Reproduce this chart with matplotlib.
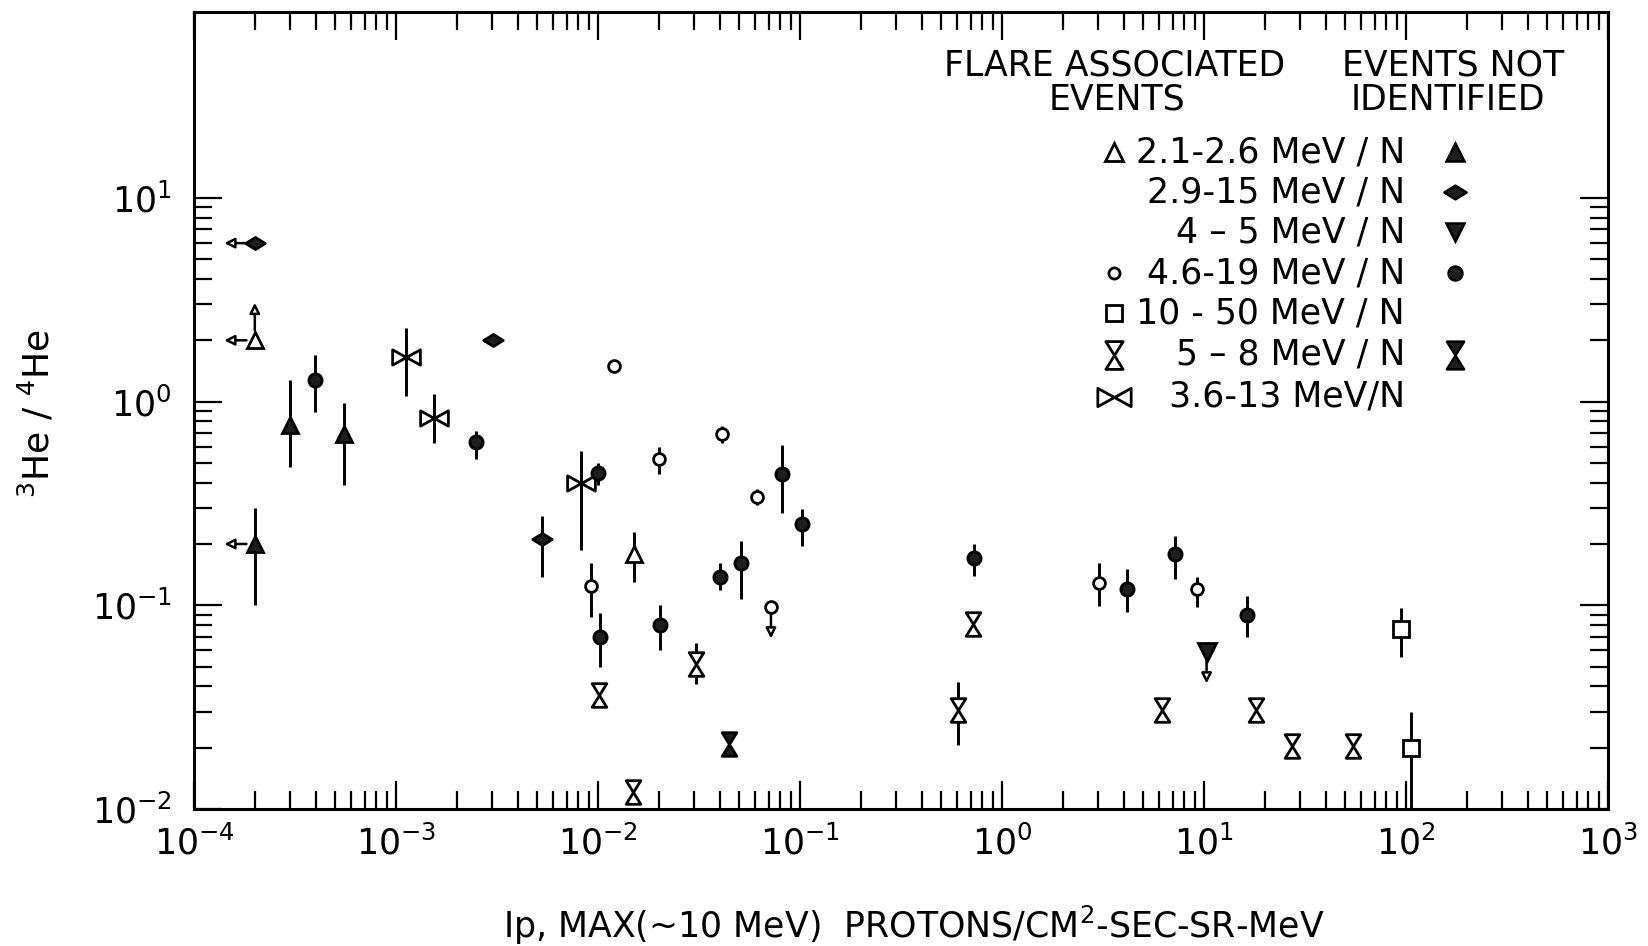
import numpy as np
import matplotlib
matplotlib.use("Agg")
import matplotlib.pyplot as plt
from matplotlib.path import Path
from matplotlib.lines import Line2D
from matplotlib.ticker import FixedLocator, LogLocator, NullFormatter
import matplotlib.transforms as mtransforms

nan = np.nan

# ---------------- data ----------------
# Flare associated events (open symbols)
tri_open_x = [2.0e-4, 1.51e-2]
tri_open_y = [2.0, 0.179]
tri_open_lo = [nan, 0.13]
tri_open_hi = [nan, 0.23]
tri_open_arr = ["LU", ""]

circ_open_x = [9.2e-3, 1.2e-2, 2.01e-2, 4.09e-2, 6.11e-2, 7.18e-2, 3.02, 9.2]
circ_open_y = [0.124, 1.5, 0.52, 0.69, 0.342, 0.0986, 0.129, 0.12]
circ_open_lo = [0.0875, nan, 0.44, 0.627, 0.311, nan, 0.0993, 0.0986]
circ_open_hi = [0.162, nan, 0.60, 0.76, 0.372, nan, 0.161, 0.138]
circ_open_arr = ["", "", "", "", "", "D", "", ""]

sq_open_x = [94.5, 106.0]
sq_open_y = [0.0764, 0.020]
sq_open_lo = [0.056, 0.01]
sq_open_hi = [0.0968, 0.0298]
sq_open_arr = ["", ""]

hg_open_x = [0.01016, 0.01486, 0.0305, 0.604, 0.716, 6.22, 18.1, 27.2, 54.8]
hg_open_y = [0.0363, 0.0121, 0.0515, 0.0306, 0.081, 0.0306, 0.0306, 0.0204, 0.0204]
hg_open_lo = [nan, nan, 0.041, 0.0207, nan, nan, nan, nan, nan]
hg_open_hi = [nan, nan, 0.065, 0.042, nan, nan, nan, nan, nan]
hg_open_arr = [""] * 9

bow_x = [1.12e-3, 1.55e-3, 8.2e-3]
bow_y = [1.66, 0.835, 0.40]
bow_lo = [1.07, 0.625, 0.186]
bow_hi = [2.29, 1.09, 0.574]
bow_arr = ["", "", ""]

# Events not identified (filled symbols)
tri_fill_x = [2.0e-4, 3.0e-4, 5.53e-4]
tri_fill_y = [0.20, 0.77, 0.69]
tri_fill_lo = [0.10, 0.48, 0.39]
tri_fill_hi = [0.30, 1.28, 0.98]
tri_fill_arr = ["L", "", ""]

dia_fill_x = [2.0e-4, 3.03e-3, 5.26e-3]
dia_fill_y = [6.0, 2.0, 0.211]
dia_fill_lo = [nan, nan, 0.138]
dia_fill_hi = [nan, nan, 0.275]
dia_fill_arr = ["L", "", ""]

dtri_fill_x = [10.3]
dtri_fill_y = [0.0593]
dtri_fill_lo = [nan]
dtri_fill_hi = [nan]
dtri_fill_arr = ["D"]

circ_fill_x = [3.97e-4, 2.49e-3, 1.005e-2, 1.023e-2, 2.03e-2, 4.02e-2, 5.11e-2,
               8.11e-2, 0.102, 0.726, 4.17, 7.18, 16.3]
circ_fill_y = [1.28, 0.63, 0.445, 0.070, 0.080, 0.138, 0.161, 0.44, 0.25, 0.170,
               0.1205, 0.179, 0.0897]
circ_fill_lo = [0.89, 0.52, 0.39, 0.0497, 0.06, 0.119, 0.107, 0.285, 0.196, 0.139,
                0.093, 0.135, 0.070]
circ_fill_hi = [1.69, 0.72, 0.50, 0.0914, 0.10, 0.161, 0.208, 0.61, 0.297, 0.20,
                0.151, 0.219, 0.111]
circ_fill_arr = [""] * 13

hg_fill_x = [0.0447]
hg_fill_y = [0.0209]
hg_fill_lo = [nan]
hg_fill_hi = [nan]
hg_fill_arr = [""]

legend_labels = ["2.1-2.6 MeV / N", "2.9-15 MeV / N", "4 \u2013 5 MeV / N",
                 "4.6-19 MeV / N", "10 - 50 MeV / N", "5 \u2013 8 MeV / N",
                 "3.6-13 MeV/N"]

x_tick_vals = [1e-4, 1e-3, 1e-2, 1e-1, 1e0, 1e1, 1e2, 1e3]
x_tick_labels = [r"$10^{-4}$", r"$10^{-3}$", r"$10^{-2}$", r"$10^{-1}$",
                 r"$10^{0}$", r"$10^{1}$", r"$10^{2}$", r"$10^{3}$"]
y_tick_vals = [1e-2, 1e-1, 1e0, 1e1]
y_tick_labels = [r"$10^{-2}$", r"$10^{-1}$", r"$10^{0}$", r"$10^{1}$"]

# ---------------- marker shapes ----------------
C = Path.CLOSEPOLY
hourglass = Path([(-0.62, 1), (0.62, 1), (-0.62, -1), (0.62, -1), (0, 0)],
                 [Path.MOVETO, Path.LINETO, Path.LINETO, Path.LINETO, C])
bowtie = Path([(-1, 0.55), (-1, -0.55), (1, 0.55), (1, -0.55), (0, 0)],
              [Path.MOVETO, Path.LINETO, Path.LINETO, Path.LINETO, C])
diamond = Path([(-1, 0), (0, 0.62), (1, 0), (0, -0.62), (0, 0)],
               [Path.MOVETO, Path.LINETO, Path.LINETO, Path.LINETO, C])

plt.rcParams["font.family"] = ["DejaVu Sans"]
plt.rcParams["mathtext.fontset"] = "dejavusans"

W, H = 1648, 946
fig = plt.figure(figsize=(W / 100, H / 100), dpi=100)
L, R, T, B = 194, 1608, 12, 809
ax = fig.add_axes([L / W, 1 - B / H, (R - L) / W, (B - T) / H])
ax.set_xscale("log")
ax.set_yscale("log")
ax.set_xlim(1e-4, 1e3)
ax.set_ylim(1e-2, 81.8)

K = "black"
FILL = "#1e1e1e"
series = [
    (tri_open_x, tri_open_y, tri_open_lo, tri_open_hi, tri_open_arr, "^", 12, False),
    (circ_open_x, circ_open_y, circ_open_lo, circ_open_hi, circ_open_arr, "o", 8.5, False),
    (sq_open_x, sq_open_y, sq_open_lo, sq_open_hi, sq_open_arr, "s", 11, False),
    (hg_open_x, hg_open_y, hg_open_lo, hg_open_hi, hg_open_arr, hourglass, 17, False),
    (bow_x, bow_y, bow_lo, bow_hi, bow_arr, bowtie, 20, False),
    (tri_fill_x, tri_fill_y, tri_fill_lo, tri_fill_hi, tri_fill_arr, "^", 12, True),
    (dia_fill_x, dia_fill_y, dia_fill_lo, dia_fill_hi, dia_fill_arr, diamond, 14, True),
    (dtri_fill_x, dtri_fill_y, dtri_fill_lo, dtri_fill_hi, dtri_fill_arr, "v", 13, True),
    (circ_fill_x, circ_fill_y, circ_fill_lo, circ_fill_hi, circ_fill_arr, "o", 9.5, True),
    (hg_fill_x, hg_fill_y, hg_fill_lo, hg_fill_hi, hg_fill_arr, hourglass, 17, True),
]


def draw_arrow(x, y, dx, dy, shrink):
    tip = mtransforms.offset_copy(ax.transData, fig=fig, x=dx, y=dy, units="points")
    ax.annotate("", xy=(x, y), xycoords=tip, xytext=(x, y), textcoords="data",
                arrowprops=dict(arrowstyle="-|>,head_length=0.6,head_width=0.3",
                                lw=1.8, ec=K, fc="white", shrinkA=shrink, shrinkB=0),
                zorder=2, annotation_clip=False)


for xs, ys, los, his, arrs, mk, ms, filled in series:
    for xi, lo, hi in zip(xs, los, his):
        if np.isfinite(lo) and np.isfinite(hi):
            ax.vlines(xi, lo, hi, colors=K, lw=2.1, zorder=2)
    for xi, yi, a in zip(xs, ys, arrs):
        if "L" in a:
            draw_arrow(xi, yi, -22, 0, 6)
        if "U" in a:
            draw_arrow(xi, yi, 0, 27, 7)
        if "D" in a:
            draw_arrow(xi, yi, 0, -23, 5)
    ax.plot(xs, ys, ls="none", marker=mk, ms=ms, mew=2.0, mec=K,
            mfc=(FILL if filled else "white"), zorder=3, clip_on=False)

# ---------------- axes styling ----------------
for s in ax.spines.values():
    s.set_linewidth(2.2)
ax.xaxis.set_major_locator(FixedLocator(x_tick_vals))
ax.set_xticklabels(x_tick_labels)
ax.xaxis.set_minor_locator(LogLocator(base=10, subs=np.arange(2, 10)))
ax.xaxis.set_minor_formatter(NullFormatter())
ax.yaxis.set_major_locator(FixedLocator(y_tick_vals))
ax.set_yticklabels(y_tick_labels)
y_minor = [m * d for d in (1e-2, 1e-1, 1e0) for m in range(2, 10)]
ax.yaxis.set_minor_locator(FixedLocator(y_minor))
ax.yaxis.set_minor_formatter(NullFormatter())
ax.tick_params(which="both", direction="in", top=True, right=True, width=1.6, colors=K)
ax.tick_params(which="major", length=20)
ax.tick_params(which="minor", length=13)
ax.tick_params(axis="x", which="major", labelsize=25, pad=12)
ax.tick_params(axis="y", which="major", labelsize=25, pad=16)

fig.text(37 / W, 1 - 414 / H, r"$^{3}$He / $^{4}$He", rotation=90, ha="center",
         va="center", fontsize=26)
fig.text(914 / W, 1 - 925 / H, "Ip, MAX(~10 MeV)  PROTONS/CM$^{2}$-SEC-SR-MeV",
         ha="center", va="center", fontsize=25)

# ---------------- legend (drawn as text + glyphs) ----------------
def fpos(px, py):
    return px / W, 1 - py / H

HF = 25
fig.text(*fpos(1115, 65), "FLARE ASSOCIATED", ha="center", va="center", fontsize=HF)
fig.text(*fpos(1117, 100), "EVENTS", ha="center", va="center", fontsize=HF)
fig.text(*fpos(1453, 65), "EVENTS NOT", ha="center", va="center", fontsize=HF)
fig.text(*fpos(1448, 100), "IDENTIFIED", ha="center", va="center", fontsize=HF)

row_y = [152, 192, 232, 273, 313, 355, 397]
left_mk = [("^", 13), None, None, ("o", 8), ("s", 12), (hourglass, 20), (bowtie, 24)]
right_mk = [("^", 13), (diamond, 16), ("v", 13), ("o", 10), None, (hourglass, 20), None]
for yy, lab, lm, rm in zip(row_y, legend_labels, left_mk, right_mk):
    fig.text(*fpos(1405, yy), lab, ha="right", va="center", fontsize=25)
    if lm is not None:
        fx, fy = fpos(1114, yy)
        fig.add_artist(Line2D([fx], [fy], transform=fig.transFigure, ls="none",
                              marker=lm[0], ms=lm[1], mew=2.0, mec=K, mfc="white"))
    if rm is not None:
        fx, fy = fpos(1455, yy)
        fig.add_artist(Line2D([fx], [fy], transform=fig.transFigure, ls="none",
                              marker=rm[0], ms=rm[1], mew=1.8, mec=K, mfc=FILL))

fig.savefig("out.png", dpi=100, facecolor="white")
